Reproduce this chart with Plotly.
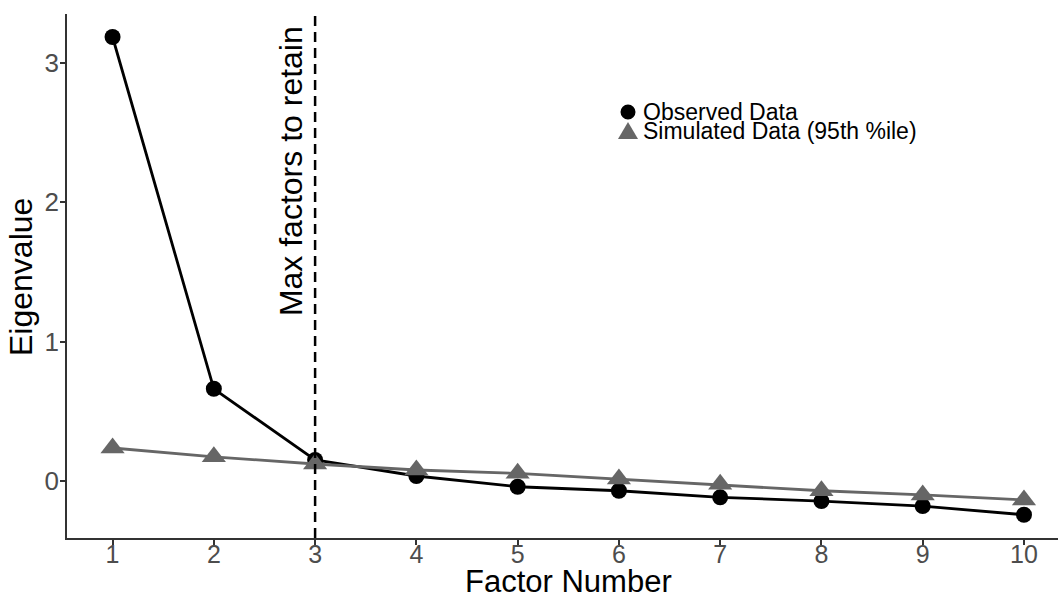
import plotly.graph_objects as go

factors = [1, 2, 3, 4, 5, 6, 7, 8, 9, 10]
observed = [3.187, 0.662, 0.151, 0.036, -0.041, -0.070, -0.117, -0.144, -0.180, -0.242]
simulated = [0.237, 0.174, 0.122, 0.079, 0.055, 0.014, -0.024, -0.070, -0.100, -0.136]
x_ticks = [1, 2, 3, 4, 5, 6, 7, 8, 9, 10]
y_ticks = [0, 1, 2, 3]
retain_at = 3
series_names = ["Observed Data", "Simulated Data (95th %ile)"]

FONT = "Liberation Sans, Arial, sans-serif"
BLACK = "black"
GREY = "#666666"

fig = go.Figure()
fig.add_trace(go.Scatter(
    x=factors, y=observed, mode="lines+markers", name=series_names[0],
    line=dict(color=BLACK, width=2.8),
    marker=dict(symbol="circle", size=16, color=BLACK),
    showlegend=False,
))
fig.add_trace(go.Scatter(
    x=factors, y=simulated, mode="lines+markers", name=series_names[1],
    line=dict(color=GREY, width=2.8),
    marker=dict(symbol="triangle-up", size=21, color=GREY),
    showlegend=False,
))

fig.add_vline(x=retain_at, line=dict(color="black", width=2.5, dash="10px,6px"))
fig.add_annotation(
    x=retain_at, y=2.225, xref="x", yref="y", text="Max factors to retain",
    textangle=-90, showarrow=False, xanchor="right", xshift=-4,
    font=dict(family=FONT, size=32, color="black"),
)

# axis titles
fig.add_annotation(
    x=0, y=0.5, xref="paper", yref="paper", text="Eigenvalue", textangle=-90,
    showarrow=False, xanchor="center", yanchor="middle", xshift=-46, yshift=-1,
    font=dict(family=FONT, size=32, color="black"),
)
fig.add_annotation(
    x=0.506, y=0, xref="paper", yref="paper", text="Factor Number",
    showarrow=False, xanchor="center", yanchor="middle", yshift=-43,
    font=dict(family=FONT, size=31, color="black"),
)

# legend (keys + labels)
leg_x = 0.5661
leg_tx = 0.5792
leg_y = [0.8130, 0.7767]
fig.add_shape(type="circle", xref="paper", yref="paper", xsizemode="pixel", ysizemode="pixel",
              xanchor=leg_x, yanchor=leg_y[0], x0=-7.5, x1=7.5, y0=-7.5, y1=7.5,
              fillcolor=BLACK, line=dict(width=0))
fig.add_shape(type="path", xref="paper", yref="paper", xsizemode="pixel", ysizemode="pixel",
              xanchor=leg_x, yanchor=leg_y[1], path="M -10,-8 L 10,-8 L 0,9 Z",
              fillcolor=GREY, line=dict(width=0))
for name, yy in zip(series_names, leg_y):
    fig.add_annotation(
        x=leg_tx, y=yy, xref="paper", yref="paper", text=name, showarrow=False,
        xanchor="left", yanchor="middle",
        font=dict(family=FONT, size=23, color="black"),
    )

fig.update_layout(
    width=1058, height=598,
    margin=dict(l=67, r=0, t=14, b=60),
    plot_bgcolor="white", paper_bgcolor="white",
    font=dict(family=FONT),
    showlegend=False,
    xaxis=dict(
        range=[0.55, 10.336], tickmode="array", tickvals=x_ticks, automargin=False,
        showgrid=False, zeroline=False, showline=True, linecolor="#333333", linewidth=1.5,
        ticks="outside", ticklen=5, tickcolor="#333333", tickwidth=1.5,
        ticklabelstandoff=-12,
        tickfont=dict(family=FONT, size=25, color="#4d4d4d"),
    ),
    yaxis=dict(
        range=[-0.409, 3.352], tickmode="array", tickvals=y_ticks, automargin=False,
        showgrid=False, zeroline=False, showline=True, linecolor="#333333", linewidth=1.5,
        ticks="outside", ticklen=5, tickcolor="#333333", tickwidth=1.5,
        ticklabelstandoff=-4,
        tickfont=dict(family=FONT, size=26, color="#4d4d4d"),
    ),
)

fig.write_html(
    "out.html",
    config={"displayModeBar": False},
    post_script="document.body.style.margin='0';document.body.style.overflow='hidden';",
)
